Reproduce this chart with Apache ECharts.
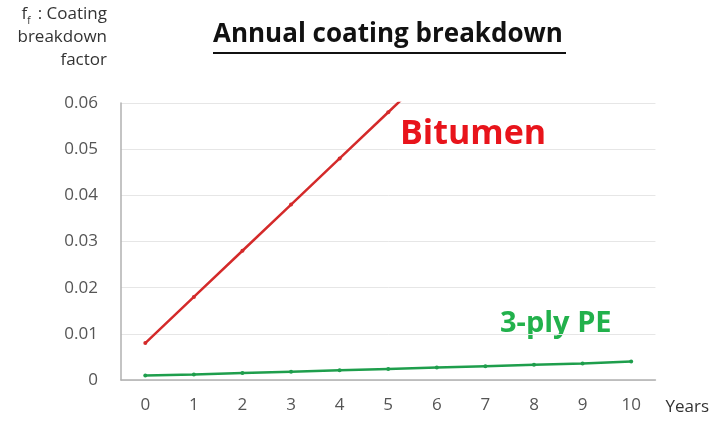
<!DOCTYPE html>
<html lang="en">
<head>
    <meta http-equiv="Content-Type" content="text/html; charset=utf-8"/>
    <title>Annual coating breakdown</title>
    <script type="text/javascript" src="https://cdn.jsdelivr.net/npm/echarts@6/dist/echarts.min.js"></script>
    <style>
        html, body { margin: 0; padding: 0; background: #fff; }
        #chart { width: 712px; height: 421px; }
    </style>
</head>
<body>
<div id="chart"></div>
<script type="text/javascript">
    // 数据
    var years = ['0', '1', '2', '3', '4', '5', '6', '7', '8', '9', '10'];
    var bitumen = [0.008, 0.018, 0.028, 0.038, 0.048, 0.058, 0.068, 0.078, 0.088, 0.098, 0.108];
    var pe3ply = [0.001, 0.0012, 0.0015, 0.0018, 0.0021, 0.0024, 0.0027, 0.003, 0.0033, 0.0036, 0.004];
    var yTicks = [0, 0.01, 0.02, 0.03, 0.04, 0.05, 0.06];

    var font = '"Open Sans", "Noto Sans", sans-serif';
    var myChart = echarts.init(document.getElementById('chart'));
    var option = {
        animation: false,
        grid: { left: 121, right: 55, top: 103, bottom: 41 },
        xAxis: {
            type: 'category',
            data: years,
            boundaryGap: true,
            axisLine: { lineStyle: { color: '#b0b0b0', width: 1.5 } },
            axisTick: { show: false },
            axisLabel: { color: '#555', fontSize: 17, fontFamily: font, margin: 17 },
            name: 'Years',
            nameLocation: 'end',
            nameGap: 10,
            nameTextStyle: { color: '#333', fontSize: 17, fontFamily: font, verticalAlign: 'top', padding: [19, 0, 0, 0] }
        },
        yAxis: {
            type: 'value',
            min: yTicks[0],
            max: yTicks[yTicks.length - 1],
            interval: 0.01,
            axisLine: { show: true, lineStyle: { color: '#b0b0b0', width: 1.5 } },
            axisTick: { show: false },
            splitLine: { lineStyle: { color: '#e6e6e6' } },
            axisLabel: {
                color: '#555', fontSize: 17, fontFamily: font, margin: 23,
                formatter: function (v) { return v === 0 ? '0' : v.toFixed(2); }
            }
        },
        series: [
            {
                name: 'Bitumen',
                type: 'line',
                data: bitumen,
                clip: true,
                symbol: 'circle',
                symbolSize: 4,
                lineStyle: { color: '#d42a2a', width: 2.5 },
                itemStyle: { color: '#d42a2a' }
            },
            {
                name: '3-ply PE',
                type: 'line',
                data: pe3ply,
                symbol: 'circle',
                symbolSize: 4,
                lineStyle: { color: '#1e9e4c', width: 2.5 },
                itemStyle: { color: '#1e9e4c' }
            }
        ],
        graphic: [
            {
                type: 'text', left: 213, top: 22,
                style: { text: 'Annual coating breakdown', fill: '#111', font: 'bold 26px ' + font }
            },
            {
                type: 'rect', shape: { x: 213, y: 52, width: 353, height: 2 },
                style: { fill: '#111' }
            },
            {
                type: 'text', right: 605, top: 6,
                style: {
                    text: '{a|f}{s|f}{a|: Coating}\n{a|breakdown}\n{a|factor}',
                    align: 'right',
                    rich: {
                        a: { fill: '#333', fontSize: 17, fontFamily: font, lineHeight: 23, align: 'right' },
                        s: { fill: '#333', fontSize: 10, fontFamily: font, lineHeight: 23, verticalAlign: 'bottom', padding: [9, 3, 0, 0] }
                    }
                }
            },
            {
                type: 'text', left: 400, top: 117,
                style: { text: 'Bitumen', fill: '#e8141b', font: 'bold 34px ' + font }
            },
            {
                type: 'text', left: 500, top: 309,
                style: { text: '3-ply PE', fill: '#22b14c', font: 'bold 29px ' + font }
            }
        ]
    };
    myChart.setOption(option);
</script>
</body>
</html>
